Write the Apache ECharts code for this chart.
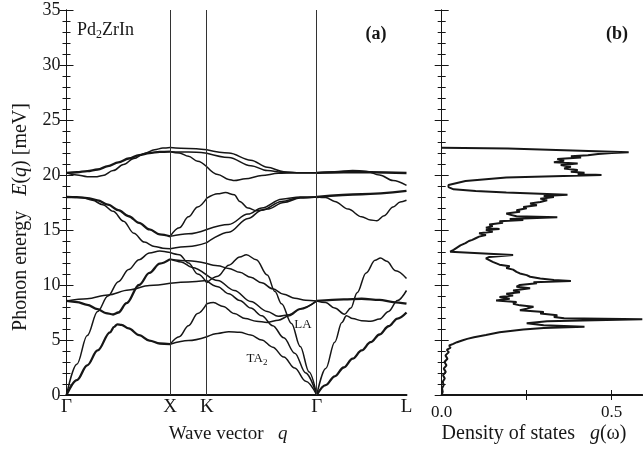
<!DOCTYPE html>
<html><head><meta charset="utf-8">
<script src="https://cdn.jsdelivr.net/npm/echarts@6.0.0/dist/echarts.min.js"></script>
<style>html,body{margin:0;padding:0;background:#fff}#c{width:643px;height:452px}</style>
</head><body><div id="c"></div>
<script>
// ---- path / tick labels ----
const qLabels = ['Γ', 'X', 'K', 'Γ', 'L'];
const qPos = [0, 1, 1.3536, 2.4142, 3.2802];
const dosTickLabels = [0, 0.5];

// ---- phonon branches: [t along segment (0..1), E meV]; degeneracy per branch ----
const gammaX = [
  [[0,0],[0.1,1.35],[0.2,2.7],[0.3,4.05],[0.42,5.7],[0.46,6.2],[0.49,6.42],[0.53,6.38],[0.6,6.05],[0.7,5.45],[0.8,4.95],[0.9,4.68],[1,4.62]],
  [[0,0],[0.1,2.8],[0.2,5.4],[0.3,7.6],[0.4,9.0],[0.5,10.3],[0.6,11.4],[0.7,12.3],[0.8,12.9],[0.9,13.1],[1,12.95]],
  [[0,8.55],[0.2,8.75],[0.4,9.1],[0.6,9.55],[0.8,9.95],[1,10.15]],
  [[0,8.55],[0.1,8.45],[0.2,8.2],[0.3,7.8],[0.38,7.45],[0.45,7.32],[0.5,7.5],[0.58,8.35],[0.7,10.0],[0.8,11.1],[0.9,11.95],[1,12.35]],
  [[0,18.0],[0.1,17.98],[0.2,17.9],[0.3,17.7],[0.4,17.3],[0.5,16.8],[0.6,16.25],[0.7,15.65],[0.8,15.05],[0.9,14.6],[1,14.42]],
  [[0,18.0],[0.15,17.95],[0.25,17.7],[0.35,17.3],[0.45,16.7],[0.55,15.8],[0.65,14.7],[0.75,13.9],[0.85,13.5],[0.93,13.35],[1,13.3]],
  [[0,20.2],[0.1,20.25],[0.2,20.35],[0.3,20.5],[0.4,20.8],[0.5,21.15],[0.6,21.5],[0.7,21.8],[0.8,22.0],[0.9,22.1],[1,22.12]],
  [[0,20.2],[0.1,20.0],[0.2,19.85],[0.28,19.83],[0.35,19.95],[0.45,20.4],[0.55,20.95],[0.65,21.5],[0.75,21.95],[0.85,22.3],[0.93,22.45],[1,22.5]]
];
const gammaXDeg = [2,1,1,2,2,1,2,1];

const xK = [
  [[0,22.5],[0.5,22.42],[1,22.3]],
  [[0,22.12],[0.5,22.08],[1,21.98]],
  [[0,22.12],[0.25,22.0],[0.5,21.7],[0.75,21.25],[1,20.75]],
  [[0,14.42],[0.25,15.2],[0.5,16.2],[0.75,17.1],[1,17.9]],
  [[0,14.42],[0.5,14.65],[1,15.05]],
  [[0,13.3],[0.5,13.5],[1,13.85]],
  [[0,12.95],[0.25,12.75],[0.5,12.0],[0.75,11.0],[1,10.2]],
  [[0,12.35],[0.5,12.2],[1,11.95]],
  [[0,12.35],[0.3,12.1],[0.6,11.6],[1,10.9]],
  [[0,10.15],[0.5,10.28],[1,10.4]],
  [[0,4.62],[0.25,5.3],[0.5,6.3],[0.75,7.4],[1,8.3]],
  [[0,4.62],[0.5,4.95],[1,5.3]]
];
const xKDeg = [1,1,1,1,1,1,1,1,1,1,1,1];

const kGamma = [
  [[0,22.3],[0.2,22.0],[0.4,21.35],[0.55,20.7],[0.7,20.3],[0.85,20.2],[1,20.2]],
  [[0,21.98],[0.2,21.6],[0.4,20.85],[0.55,20.4],[0.7,20.22],[0.85,20.2],[1,20.2]],
  [[0,20.75],[0.1,20.05],[0.2,19.6],[0.25,19.5],[0.35,19.65],[0.5,19.95],[0.65,20.15],[0.8,20.2],[1,20.2]],
  [[0,17.9],[0.1,18.3],[0.17,18.4],[0.25,18.2],[0.3,17.6],[0.375,17.0],[0.45,16.75],[0.55,16.9],[0.7,17.5],[0.85,17.9],[1,18.0]],
  [[0,15.05],[0.2,15.5],[0.375,16.45],[0.5,17.0],[0.68,17.8],[0.85,18.0],[1,18.0]],
  [[0,13.85],[0.2,14.8],[0.375,16.05],[0.5,16.8],[0.68,17.6],[0.85,17.95],[1,18.0]],
  [[0,10.2],[0.1,10.8],[0.2,11.8],[0.3,12.55],[0.36,12.75],[0.45,12.3],[0.55,10.9],[0.62,9.4],[0.68,8.3],[0.77,6.5],[0.85,4.4],[0.93,2.1],[1,0]],
  [[0,11.95],[0.1,11.75],[0.2,11.5],[0.3,11.15],[0.4,10.7],[0.5,10.2],[0.6,9.65],[0.7,9.15],[0.8,8.8],[0.9,8.62],[1,8.55]],
  [[0,10.9],[0.1,10.4],[0.25,9.5],[0.4,8.5],[0.55,7.6],[0.65,7.15],[0.75,7.3],[0.85,7.85],[1,8.55]],
  [[0,10.4],[0.1,9.85],[0.2,9.2],[0.3,8.6],[0.4,7.9],[0.5,7.2],[0.6,6.3],[0.7,5.2],[0.8,3.8],[0.9,2.0],[1,0]],
  [[0,8.3],[0.06,8.4],[0.15,8.05],[0.25,7.4],[0.35,6.95],[0.45,6.7],[0.55,6.6],[0.65,6.8],[0.75,7.2],[0.85,7.8],[1,8.55]],
  [[0,5.3],[0.1,5.6],[0.2,5.75],[0.3,5.7],[0.4,5.45],[0.5,5.0],[0.6,4.35],[0.7,3.45],[0.8,2.45],[0.9,1.25],[1,0]]
];
const kGammaDeg = [1,1,1,1,1,1,1,1,1,1,1,1];

const gammaL = [
  [[0,20.2],[0.3,20.25],[0.6,20.25],[1,20.18]],
  [[0,20.2],[0.2,20.3],[0.4,20.42],[0.55,20.35],[0.7,20.0],[0.85,19.5],[1,19.05]],
  [[0,18.0],[0.5,18.25],[1,18.55]],
  [[0,18.0],[0.1,17.95],[0.2,17.6],[0.35,16.9],[0.5,16.2],[0.6,15.9],[0.67,15.85],[0.75,16.3],[0.85,17.1],[0.93,17.55],[1,17.7]],
  [[0,8.55],[0.3,8.7],[0.5,8.75],[0.7,8.65],[0.85,8.45],[1,8.3]],
  [[0,8.55],[0.1,8.4],[0.2,7.9],[0.31,7.35],[0.38,7.9],[0.45,9.3],[0.55,11.1],[0.65,12.25],[0.71,12.45],[0.78,12.15],[0.88,11.3],[1,10.6]],
  [[0,0],[0.1,2.4],[0.2,4.8],[0.28,6.6],[0.33,7.2],[0.4,6.95],[0.5,6.75],[0.6,6.7],[0.7,6.9],[0.8,7.6],[0.9,8.6],[1,9.5]],
  [[0,0],[0.1,0.9],[0.2,1.7],[0.3,2.5],[0.4,3.3],[0.5,4.05],[0.6,4.8],[0.7,5.5],[0.8,6.25],[0.9,6.95],[1,7.5]]
];
const gammaLDeg = [2,1,2,1,2,1,1,2];

// ---- density of states: [E meV, g] ----
const dos = [
  [0,0],[0.3,0.003],[0.6,0.001],[0.9,0.006],[1.2,0.003],[1.5,0.009],[1.8,0.004],[2.1,0.012],[2.4,0.006],[2.7,0.014],
  [3.0,0.008],[3.3,0.017],[3.6,0.011],[3.9,0.021],[4.1,0.015],[4.3,0.026],[4.5,0.022],[4.65,0.034],[4.8,0.045],[4.95,0.06],
  [5.1,0.075],[5.25,0.095],[5.45,0.13],[5.7,0.17],[5.95,0.24],[6.1,0.3],[6.21,0.42],[6.35,0.3],[6.52,0.25],[6.7,0.31],
  [6.88,0.59],[6.97,0.36],[7.1,0.33],[7.25,0.34],[7.4,0.29],[7.55,0.3],[7.7,0.23],[7.85,0.25],[8.03,0.27],[8.15,0.23],
  [8.3,0.21],[8.45,0.22],[8.6,0.16],[8.75,0.2],[8.9,0.17],[9.05,0.21],[9.2,0.19],[9.35,0.23],[9.5,0.21],[9.7,0.26],
  [9.85,0.22],[10.0,0.23],[10.15,0.28],[10.25,0.27],[10.36,0.38],[10.45,0.33],[10.6,0.29],[10.75,0.26],[10.9,0.25],[11.05,0.23],
  [11.2,0.22],[11.4,0.21],[11.55,0.19],[11.7,0.2],[11.85,0.17],[11.97,0.17],[12.1,0.15],[12.25,0.15],[12.42,0.13],[12.55,0.14],
  [12.73,0.21],[13.03,0.025],[13.2,0.035],[13.4,0.045],[13.6,0.055],[13.8,0.07],[14.0,0.08],[14.1,0.09],[14.25,0.1],[14.4,0.11],
  [14.55,0.13],[14.7,0.11],[14.85,0.15],[15.0,0.13],[15.1,0.17],[15.2,0.13],[15.35,0.15],[15.5,0.14],[15.65,0.18],[15.8,0.17],
  [15.9,0.24],[16.0,0.2],[16.15,0.34],[16.25,0.22],[16.4,0.2],[16.5,0.19],[16.65,0.23],[16.8,0.22],[16.97,0.25],[17.1,0.24],
  [17.25,0.28],[17.4,0.26],[17.55,0.29],[17.7,0.31],[17.85,0.29],[18.0,0.33],[18.1,0.3],[18.2,0.37],[18.4,0.19],[18.55,0.1],
  [18.7,0.035],[18.9,0.02],[19.1,0.02],[19.2,0.025],[19.45,0.07],[19.78,0.19],[20.0,0.47],[20.1,0.4],[20.2,0.42],[20.3,0.38],
  [20.45,0.4],[20.6,0.36],[20.75,0.38],[20.9,0.35],[21.05,0.4],[21.15,0.33],[21.3,0.36],[21.45,0.34],[21.6,0.41],[21.7,0.38],
  [21.8,0.43],[21.9,0.46],[22.0,0.5],[22.06,0.55],[22.42,0.195],[22.47,0]
];

// ---- build chart ----
const FONT = "'Liberation Serif','Times New Roman',serif";
const INK = '#161616';
const series = [];
function addSegment(branches, degs, i0, i1) {
  branches.forEach((b, k) => {
    series.push({
      type: 'line', xAxisIndex: 0, yAxisIndex: 0, silent: true, animation: false,
      showSymbol: false, smooth: 0.35, smoothMonotone: 'x',
      lineStyle: { color: INK, width: degs[k] > 1 ? 2.3 : 1.5 },
      data: b.map(([t, E]) => [qPos[i0] + t * (qPos[i1] - qPos[i0]), E])
    });
  });
}
addSegment(gammaX, gammaXDeg, 0, 1);
addSegment(xK, xKDeg, 1, 2);
addSegment(kGamma, kGammaDeg, 2, 3);
addSegment(gammaL, gammaLDeg, 3, 4);
series[0].markLine = {
  silent: true, symbol: ['none', 'none'], label: { show: false }, animation: false,
  lineStyle: { type: 'solid', color: '#333', width: 1 },
  data: qPos.slice(1, 4).map(v => ({ xAxis: v }))
};
series.push({
  type: 'line', xAxisIndex: 2, yAxisIndex: 2, silent: true, animation: false, showSymbol: false,
  lineStyle: { color: INK, width: 2 },
  data: dos.map(([E, g]) => [g, E])
});

const axisLine = { show: true, lineStyle: { color: INK, width: 1 } };
const yCommon = {
  min: 0, max: 35, interval: 5, splitLine: { show: false },
  axisLine: axisLine,
  axisTick: { show: true, inside: true, length: 7, lineStyle: { color: INK } },
  minorTick: { show: true, splitNumber: 5, length: 4, lineStyle: { color: INK } }
};

const option = {
  backgroundColor: '#fff',
  animation: false,
  grid: [
    { left: 66.5, top: 10, width: 340, height: 385 },
    { left: 441.7, top: 10, width: 200.6, height: 385 }
  ],
  xAxis: [
    { gridIndex: 0, type: 'value', min: qPos[0], max: qPos[4], position: 'bottom',
      axisLine: { show: true, lineStyle: { color: INK, width: 2 } }, axisTick: { show: false },
      splitLine: { show: false },
      axisLabel: { customValues: qPos, formatter: v => qLabels[qPos.indexOf(v)] ?? '',
        fontFamily: FONT, fontSize: 19, color: INK, margin: 3 } },
    { gridIndex: 0, type: 'value', min: qPos[0], max: qPos[4], position: 'top',
      axisLine: axisLine, axisTick: { show: false }, axisLabel: { show: false }, splitLine: { show: false } },
    { gridIndex: 1, type: 'value', min: 0, max: 0.59, position: 'bottom',
      axisLine: { show: true, lineStyle: { color: INK, width: 2 } },
      axisTick: { show: true, inside: true, length: 5, customValues: [0.25, 0.5], lineStyle: { color: INK } },
      axisLabel: { customValues: dosTickLabels, formatter: v => v.toFixed(1),
        fontFamily: FONT, fontSize: 17, color: INK, margin: 9 },
      splitLine: { show: false } },
    { gridIndex: 1, type: 'value', min: 0, max: 0.59, position: 'top',
      axisLine: axisLine,
      axisTick: { show: true, inside: true, length: 5, customValues: [0.25, 0.5], lineStyle: { color: INK } },
      axisLabel: { show: false }, splitLine: { show: false } }
  ],
  yAxis: [
    Object.assign({ gridIndex: 0, type: 'value', position: 'left',
      axisLabel: { fontFamily: FONT, fontSize: 18, color: INK, margin: 6 } }, yCommon),
    Object.assign({ gridIndex: 0, type: 'value', position: 'right', axisLabel: { show: false } }, yCommon),
    Object.assign({ gridIndex: 1, type: 'value', position: 'left', axisLabel: { show: false } }, yCommon),
    Object.assign({ gridIndex: 1, type: 'value', position: 'right', axisLabel: { show: false } }, yCommon)
  ],
  series: series,
  graphic: [
    { type: 'text', x: 21, y: 217, rotation: Math.PI / 2, silent: true,
      style: { text: '{n|Phonon energy   }{i|E}{n|(}{i|q}{n|) [meV]}', align: 'center', verticalAlign: 'middle',
        textAlign: 'center', textVerticalAlign: 'middle', fill: INK,
        rich: { n: { fontFamily: FONT, fontSize: 20, fill: INK }, i: { fontFamily: FONT, fontSize: 20, fontStyle: 'italic', fill: INK } } } },
    { type: 'text', x: 228, y: 434, silent: true,
      style: { text: '{n|Wave vector   }{i|q}', align: 'center', verticalAlign: 'middle',
        textAlign: 'center', textVerticalAlign: 'middle', fill: INK,
        rich: { n: { fontFamily: FONT, fontSize: 19, fill: INK }, i: { fontFamily: FONT, fontSize: 19, fontStyle: 'italic', fill: INK } } } },
    { type: 'text', x: 534, y: 434, silent: true,
      style: { text: '{n|Density of states   }{i|g}{n|(ω)}', align: 'center', verticalAlign: 'middle',
        textAlign: 'center', textVerticalAlign: 'middle', fill: INK,
        rich: { n: { fontFamily: FONT, fontSize: 20, fill: INK }, i: { fontFamily: FONT, fontSize: 20, fontStyle: 'italic', fill: INK } } } },
    { type: 'text', x: 77, y: 30, silent: true,
      style: { text: '{n|Pd}{s|2}{n|ZrIn}', align: 'left', verticalAlign: 'middle',
        textAlign: 'left', textVerticalAlign: 'middle', fill: INK,
        rich: { n: { fontFamily: FONT, fontSize: 18, fill: INK }, s: { fontFamily: FONT, fontSize: 12, fill: INK, padding: [10, 0, 0, 0] } } } },
    { type: 'text', x: 376, y: 34, silent: true,
      style: { text: '(a)', align: 'center', verticalAlign: 'middle', textAlign: 'center', textVerticalAlign: 'middle',
        font: 'bold 18px ' + FONT, fill: INK } },
    { type: 'text', x: 617, y: 34, silent: true,
      style: { text: '(b)', align: 'center', verticalAlign: 'middle', textAlign: 'center', textVerticalAlign: 'middle',
        font: 'bold 18px ' + FONT, fill: INK } },
    { type: 'text', x: 303, y: 325, silent: true,
      style: { text: 'LA', align: 'center', verticalAlign: 'middle', textAlign: 'center', textVerticalAlign: 'middle',
        font: '13px ' + FONT, fill: INK } },
    { type: 'text', x: 257, y: 359, silent: true,
      style: { text: '{n|TA}{s|2}', align: 'center', verticalAlign: 'middle', textAlign: 'center', textVerticalAlign: 'middle', fill: INK,
        rich: { n: { fontFamily: FONT, fontSize: 13, fill: INK }, s: { fontFamily: FONT, fontSize: 9, fill: INK, padding: [7, 0, 0, 0] } } } }
  ]
};
const chart = echarts.init(document.getElementById('c'), null, { renderer: 'canvas' });
chart.setOption(option);
</script>
</body></html>
